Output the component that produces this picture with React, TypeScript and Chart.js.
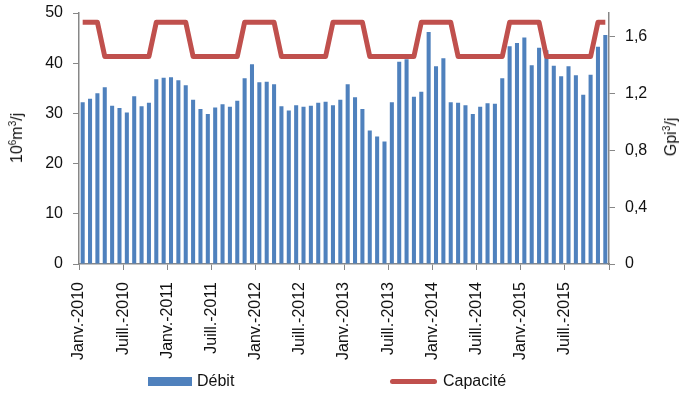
import React, { useEffect, useRef } from 'react';
import { Chart, registerables } from 'chart.js';

Chart.register(...registerables);

// Ticks every 6 months (labels sit on the month boundaries)
const tickLabels = [
  'Janv.-2010', 'Juill.-2010', 'Janv.-2011', 'Juill.-2011',
  'Janv.-2012', 'Juill.-2012', 'Janv.-2013', 'Juill.-2013',
  'Janv.-2014', 'Juill.-2014', 'Janv.-2015', 'Juill.-2015',
];

// Monthly flow, 10^6 m3/j, Jan 2010 .. Dec 2015
const debit2010 = [32.2, 32.9, 34.0, 35.2, 31.5, 31.1, 30.2, 33.4, 31.4, 32.1, 36.8, 37.1];
const debit2011 = [37.2, 36.6, 35.6, 32.7, 30.9, 29.9, 31.2, 31.8, 31.3, 32.5, 37.0, 39.8];
const debit2012 = [36.2, 36.3, 35.8, 31.4, 30.6, 31.6, 31.3, 31.5, 32.1, 32.3, 31.6, 32.7];
const debit2013 = [35.8, 33.2, 30.9, 26.6, 25.4, 24.4, 32.2, 40.3, 40.8, 33.3, 34.3, 46.2];
const debit2014 = [39.4, 41.0, 32.2, 32.1, 31.6, 29.9, 31.3, 32.0, 31.9, 37.0, 43.4, 44.0];
const debit2015 = [45.1, 39.6, 43.1, 42.6, 39.5, 37.4, 39.4, 37.6, 33.7, 37.7, 43.3, 45.6];
const debit = [...debit2010, ...debit2011, ...debit2012, ...debit2013, ...debit2014, ...debit2015];

// Monthly capacity, Gpi3/j
const capacite2010 = [1.70, 1.70, 1.70, 1.46, 1.46, 1.46, 1.46, 1.46, 1.46, 1.46, 1.70, 1.70];
const capacite2011 = [1.70, 1.70, 1.70, 1.46, 1.46, 1.46, 1.46, 1.46, 1.46, 1.46, 1.70, 1.70];
const capacite2012 = [1.70, 1.70, 1.70, 1.46, 1.46, 1.46, 1.46, 1.46, 1.46, 1.46, 1.70, 1.70];
const capacite2013 = [1.70, 1.70, 1.70, 1.46, 1.46, 1.46, 1.46, 1.46, 1.46, 1.46, 1.70, 1.70];
const capacite2014 = [1.70, 1.70, 1.70, 1.46, 1.46, 1.46, 1.46, 1.46, 1.46, 1.46, 1.70, 1.70];
const capacite2015 = [1.70, 1.70, 1.70, 1.46, 1.46, 1.46, 1.46, 1.46, 1.46, 1.46, 1.70, 1.70];
const capacite = [...capacite2010, ...capacite2011, ...capacite2012, ...capacite2013, ...capacite2014, ...capacite2015];

const leftTicks = [0, 10, 20, 30, 40, 50];
const rightTicks = [0, 0.4, 0.8, 1.2, 1.6];
const M3_TO_PI3 = 35.3147 / 1000; // 10^6 m3 -> Gpi3
const LEFT_MAX = 50;

const BLUE = '#4F81BD';
const RED = '#C0504D';
const AXIS = '#878787';
const FONT = '"Liberation Sans", Arial, sans-serif';

export default function App() {
  const ref = useRef<HTMLCanvasElement | null>(null);

  useEffect(() => {
    if (!ref.current) return;
    const chart = new Chart(ref.current, {
      type: 'bar',
      data: {
        datasets: [
          {
            type: 'line',
            label: 'Capacité',
            data: capacite.map((v, i) => ({ x: i + 0.5, y: v })),
            yAxisID: 'y1',
            borderColor: RED,
            backgroundColor: RED,
            borderWidth: 5,
            pointRadius: 0,
            tension: 0,
            borderJoinStyle: 'round',
            order: 0,
          } as any,
          {
            type: 'bar',
            label: 'Débit',
            data: debit.map((v, i) => ({ x: i + 0.5, y: v })),
            yAxisID: 'y',
            backgroundColor: BLUE,
            barPercentage: 0.55,
            categoryPercentage: 1,
            order: 1,
          },
        ],
      },
      options: {
        responsive: false,
        animation: false,
        layout: { padding: { top: 13, left: 0, right: 0, bottom: 0 } },
        plugins: { legend: { display: false }, tooltip: { enabled: false } },
        scales: {
          x: {
            type: 'linear',
            offset: false,
            min: 0,
            max: 72,
            afterBuildTicks: (s: any) => {
              s.ticks = tickLabels.map((_, k) => ({ value: k * 6 })).concat([{ value: 72 }]);
            },
            afterFit: (s: any) => { s.height = 393 - 264; },
            ticks: {
              autoSkip: false,
              maxRotation: 90,
              minRotation: 90,
              padding: 12,
              color: '#111',
              font: { family: FONT, size: 16 },
              callback: (v: any) => tickLabels[Math.round(Number(v) / 6)] ?? '',
            },
            grid: { offset: false, drawOnChartArea: false, drawTicks: true, tickLength: 6, color: AXIS },
            border: { display: true, color: AXIS, width: 1.5 },
          },
          y: {
            position: 'left',
            min: 0,
            max: LEFT_MAX,
            afterBuildTicks: (s: any) => { s.ticks = leftTicks.map((v) => ({ value: v })); },
            afterFit: (s: any) => { s.width = 79; s.paddingTop = 0; s.paddingBottom = 0; },
            ticks: { padding: 10, color: '#111', font: { family: FONT, size: 16 } },
            grid: { drawOnChartArea: false, drawTicks: true, tickLength: 6, color: AXIS },
            border: { display: true, color: AXIS, width: 1.5 },
          },
          y1: {
            position: 'right',
            min: 0,
            max: LEFT_MAX * M3_TO_PI3,
            afterBuildTicks: (s: any) => { s.ticks = rightTicks.map((v) => ({ value: v })); },
            afterFit: (s: any) => { s.width = 685 - 609; s.paddingTop = 0; s.paddingBottom = 0; },
            ticks: {
              padding: 10,
              color: '#111',
              font: { family: FONT, size: 16 },
              callback: (v: any) => String(v).replace('.', ','),
            },
            grid: { drawOnChartArea: false, drawTicks: true, tickLength: 6, color: AXIS },
            border: { display: true, color: AXIS, width: 1.5 },
          },
        },
      },
    });
    return () => chart.destroy();
  }, []);

  const sup: React.CSSProperties = { fontSize: 10, position: 'relative', top: -6 };

  return (
    <div style={{ position: 'fixed', left: 0, top: 0, width: 685, height: 393, fontFamily: FONT, color: '#111', background: '#fff' }}>
      <canvas ref={ref} width={685} height={393} style={{ position: 'absolute', left: 0, top: 0 }} />
      <div style={{ position: 'absolute', left: 18, top: 138, transform: 'translate(-50%,-50%) rotate(-90deg)', fontSize: 16, whiteSpace: 'nowrap', lineHeight: '20px' }}>
        10<span style={sup}>6</span>m<span style={sup}>3</span>/j
      </div>
      <div style={{ position: 'absolute', left: 672, top: 137, transform: 'translate(-50%,-50%) rotate(-90deg)', fontSize: 16, whiteSpace: 'nowrap', lineHeight: '20px' }}>
        Gpi<span style={sup}>3</span>/j
      </div>
      <div style={{ position: 'absolute', left: 148, top: 377, width: 44, height: 9, background: BLUE }} />
      <div style={{ position: 'absolute', left: 197, top: 371, fontSize: 16, lineHeight: '20px' }}>Débit</div>
      <div style={{ position: 'absolute', left: 390, top: 378.5, width: 47, height: 5, borderRadius: 2.5, background: RED }} />
      <div style={{ position: 'absolute', left: 443, top: 371, fontSize: 16, lineHeight: '20px' }}>Capacité</div>
    </div>
  );
}
